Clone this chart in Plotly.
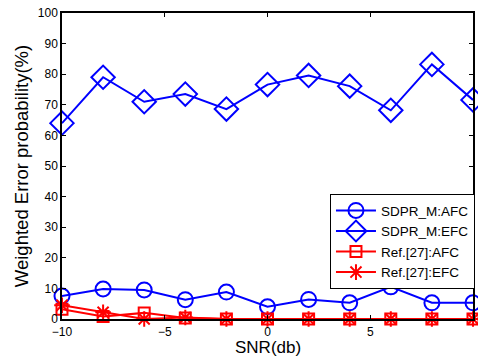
import plotly.graph_objects as go

snr = [-10, -8, -6, -4, -2, 0, 2, 4, 6, 8, 10]
sdpr_afc = [7.5, 9.8, 9.5, 6.3, 8.8, 4.0, 6.4, 5.3, 10.5, 5.3, 5.3]
sdpr_efc = [64, 79, 71, 73.5, 68.6, 76.6, 79.6, 76.1, 68.2, 83.2, 71.6]
ref_afc = [3.2, 0.8, 2.0, 0.3, 0, 0, 0, 0, 0, 0, 0]
ref_efc = [4.5, 2.2, 0, 0.5, 0, 0, 0, 0, 0, 0, 0]

BLUE = "#0000FF"
RED = "#FF0000"

fig = go.Figure()
fig.add_trace(go.Scatter(x=snr, y=sdpr_afc, name="SDPR_M:AFC", mode="lines+markers",
                         line=dict(color=BLUE, width=2),
                         marker=dict(symbol="circle-open", size=15, color=BLUE, line=dict(width=2)),
                         cliponaxis=False))
fig.add_trace(go.Scatter(x=snr, y=sdpr_efc, name="SDPR_M:EFC", mode="lines+markers",
                         line=dict(color=BLUE, width=2),
                         marker=dict(symbol="diamond-open", size=18, color=BLUE, line=dict(width=2)),
                         cliponaxis=False))
fig.add_trace(go.Scatter(x=snr, y=ref_afc, name="Ref.[27]:AFC", mode="lines+markers",
                         line=dict(color=RED, width=2),
                         marker=dict(symbol="square-open", size=11, color=RED, line=dict(width=2)),
                         cliponaxis=False))
fig.add_trace(go.Scatter(x=snr, y=ref_efc, name="Ref.[27]:EFC", mode="lines+markers",
                         line=dict(color=RED, width=2),
                         marker=dict(symbol="asterisk-open", size=13, color=RED, line=dict(width=2, color=RED)),
                         cliponaxis=False))

axis_common = dict(showline=True, linecolor="black", linewidth=1.5, mirror="ticks",
                   ticks="inside", ticklen=4, tickcolor="black", showgrid=False, zeroline=False,
                   tickfont=dict(family="Liberation Sans, Arial", size=12, color="black"))

fig.update_layout(
    width=478, height=358,
    margin=dict(l=62, r=3, t=13, b=39),
    paper_bgcolor="white", plot_bgcolor="white",
    font=dict(family="Liberation Sans, Arial", color="black"),
    xaxis=dict(range=[-10, 10], tickvals=[-10, -5, 0, 5, 10], ticklabelstandoff=1, **axis_common),
    yaxis=dict(range=[0, 100], tickvals=list(range(0, 101, 10)),
               title=dict(text="Weighted Error probability(%)", font=dict(size=18.5), standoff=4), **axis_common),
    legend=dict(x=0.652, y=0.408, xanchor="left", yanchor="top",
                bordercolor="black", borderwidth=1, bgcolor="white",
                font=dict(size=13.5), tracegroupgap=0, itemwidth=40),
    showlegend=True,
    annotations=[dict(text="SNR(db)", xref="paper", yref="paper", x=0.5, y=-0.06,
                      xanchor="center", yanchor="top", showarrow=False, borderpad=0,
                      font=dict(size=17, color="black"))],
)

fig.write_html("out.html")
